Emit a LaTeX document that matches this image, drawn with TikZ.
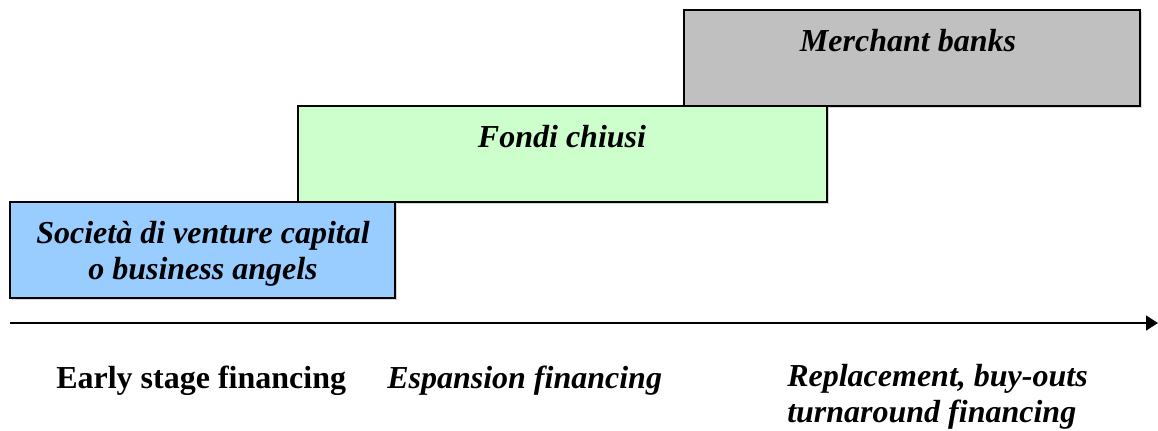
\documentclass[tikz,border=0pt]{standalone}
\usepackage{fontspec}
\setmainfont{Liberation Serif}
\usetikzlibrary{arrows.meta}
\definecolor{mbgray}{HTML}{C0C0C0}
\definecolor{fcgreen}{HTML}{CCFFCC}
\definecolor{vcblue}{HTML}{99CCFF}
\definecolor{shadowgray}{HTML}{D8D8D8}
\begin{document}
\begin{tikzpicture}[x=0.75pt,y=-0.75pt,
  stagebox/.style={draw=black,line width=1.5pt},
  boxshadow/.style={fill=shadowgray,draw=none},
  bigtext/.style={font=\fontsize{24}{27}\selectfont\bfseries},
  boxlabel/.style={bigtext,font=\fontsize{24}{27}\selectfont\bfseries\itshape,align=center,inner sep=0pt,anchor=base},
  phase/.style={bigtext,align=left,anchor=base west,inner sep=0pt},
  phaseit/.style={phase,font=\fontsize{24}{27}\selectfont\bfseries\itshape}]
\useasboundingbox (0,0) rectangle (1158,430);
% soft shadows behind the stage boxes
\fill[boxshadow] (686,12) rectangle (1142,108);
\fill[boxshadow] (300,108) rectangle (829,204);
\fill[boxshadow] (12,204) rectangle (397,300);
% stacked stage boxes
\filldraw[stagebox,fill=mbgray] (684,10) rectangle (1140,106);
\filldraw[stagebox,fill=fcgreen] (298,106) rectangle (827,202);
\filldraw[stagebox,fill=vcblue] (10,202) rectangle (395,298);
% labels (a multi-line node sits on the baseline of its last line)
\node[boxlabel] (mb) at (908,51) {Merchant banks};
\node[boxlabel] (fc) at (562,147) {Fondi chiusi};
\node[boxlabel] (vc) at (203,279) {Società di venture capital\\o business angels};
% time axis
\coordinate (axs) at (10,323);
\coordinate (axe) at (1158,323);
\draw[line width=2pt,-{Triangle[length=9pt,width=11pt]}] (axs) -- (axe);
% phase labels
\node[phase] (early) at (56,388) {Early stage financing};
\node[phaseit] (exp) at (387,388) {Espansion financing};
\node[phaseit] (repl) at (787,422) {Replacement, buy-outs\\turnaround financing};
\end{tikzpicture}
\end{document}
